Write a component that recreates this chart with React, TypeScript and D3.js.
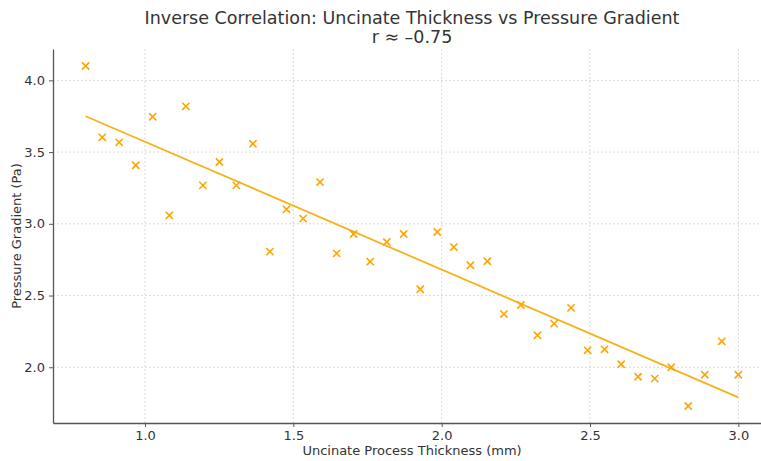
import React, { useEffect, useRef } from "react";
import * as d3 from "d3";

// Uncinate process thickness (mm) and pressure gradient (Pa)
const thickness = [
  0.8, 0.856, 0.913, 0.969, 1.026, 1.082, 1.138, 1.195, 1.251, 1.308,
  1.364, 1.421, 1.477, 1.533, 1.59, 1.646, 1.703, 1.759, 1.815, 1.872,
  1.928, 1.985, 2.041, 2.097, 2.154, 2.21, 2.267, 2.323, 2.379, 2.436,
  2.492, 2.549, 2.605, 2.662, 2.718, 2.774, 2.831, 2.887, 2.944, 3.0,
];
const pressure = [
  4.1, 3.603, 3.568, 3.408, 3.746, 3.059, 3.819, 3.268, 3.431, 3.268,
  3.558, 2.806, 3.101, 3.036, 3.291, 2.794, 2.929, 2.736, 2.873, 2.929,
  2.544, 2.943, 2.838, 2.711, 2.739, 2.371, 2.434, 2.223, 2.304, 2.414,
  2.118, 2.125, 2.021, 1.934, 1.921, 2.0, 1.73, 1.948, 2.181, 1.948,
];
// fitted trend line end points
const trendX = [0.8, 3.0];
const trendY = [3.75, 1.79];

const xTicks = [1.0, 1.5, 2.0, 2.5, 3.0];
const yTicks = [2.0, 2.5, 3.0, 3.5, 4.0];

const titleLines = ["Inverse Correlation: Uncinate Thickness vs Pressure Gradient", "r ≈ –0.75"];

const W = 761;
const H = 461;
const margin = { top: 49, right: -10, bottom: 38, left: 53 };

export default function App() {
  const svgRef = useRef<SVGSVGElement>(null);

  useEffect(() => {
    document.body.style.margin = "0";
    const svg = d3.select(svgRef.current);
    svg.selectAll("*").remove();

    const font = "DejaVu Sans, sans-serif";
    const innerW = W - margin.left - margin.right;
    const innerH = H - margin.top - margin.bottom;

    const x = d3.scaleLinear().domain([0.69, 3.11]).range([0, innerW]);
    const y = d3.scaleLinear().domain([1.6115, 4.2185]).range([innerH, 0]);

    const g = svg.append("g").attr("transform", `translate(${margin.left},${margin.top})`);

    // grid
    g.append("g")
      .selectAll("line")
      .data(xTicks)
      .join("line")
      .attr("x1", d => x(d)).attr("x2", d => x(d))
      .attr("y1", 0).attr("y2", innerH)
      .attr("stroke", "#d0d0d0").attr("stroke-width", 0.8)
      .attr("stroke-dasharray", "2,2");
    g.append("g")
      .selectAll("line")
      .data(yTicks)
      .join("line")
      .attr("x1", 0).attr("x2", innerW)
      .attr("y1", d => y(d)).attr("y2", d => y(d))
      .attr("stroke", "#d0d0d0").attr("stroke-width", 0.8)
      .attr("stroke-dasharray", "2,2");

    // axes
    const xAxis = g.append("g")
      .attr("transform", `translate(0,${innerH})`)
      .call(d3.axisBottom(x).tickValues(xTicks).tickFormat(d3.format(".1f"))
        .tickSizeInner(4).tickSizeOuter(0).tickPadding(4));
    const yAxis = g.append("g")
      .call(d3.axisLeft(y).tickValues(yTicks).tickFormat(d3.format(".1f"))
        .tickSizeInner(4).tickSizeOuter(0).tickPadding(4));
    [xAxis, yAxis].forEach(a => {
      a.select(".domain").attr("stroke", "#555").attr("stroke-width", 1.3);
      a.selectAll(".tick line").attr("stroke", "#555").attr("stroke-width", 1);
      a.selectAll(".tick text")
        .attr("fill", "#333")
        .style("font-family", font)
        .style("font-size", "13px");
    });

    // trend line
    const line = d3.line<number>()
      .x((_, i) => x(trendX[i]))
      .y(d => y(d));
    g.append("path")
      .datum(trendY)
      .attr("d", line)
      .attr("fill", "none")
      .attr("stroke", "#f6b21b")
      .attr("stroke-width", 1.8);

    // x markers
    const s = 3.6;
    g.append("g")
      .selectAll("path")
      .data(thickness)
      .join("path")
      .attr("transform", (d, i) => `translate(${x(d)},${y(pressure[i])})`)
      .attr("d", `M${-s},${-s}L${s},${s}M${-s},${s}L${s},${-s}`)
      .attr("stroke", "#ffa500")
      .attr("stroke-width", 1.6)
      .attr("fill", "none");

    // labels
    svg.append("text")
      .attr("x", margin.left + innerW / 2)
      .attr("y", 455)
      .attr("text-anchor", "middle")
      .attr("fill", "#333")
      .style("font-family", font)
      .style("font-size", "13px")
      .text("Uncinate Process Thickness (mm)");

    svg.append("text")
      .attr("transform", `translate(21,${margin.top + innerH / 2}) rotate(-90)`)
      .attr("text-anchor", "middle")
      .attr("fill", "#333")
      .style("font-family", font)
      .style("font-size", "13px")
      .text("Pressure Gradient (Pa)");

    titleLines.forEach((t, i) => {
      svg.append("text")
        .attr("x", margin.left + innerW / 2)
        .attr("y", 24 + i * 19)
        .attr("text-anchor", "middle")
        .attr("fill", "#333")
        .style("font-family", font)
        .style("font-size", "17.5px")
        .text(t);
    });
  }, []);

  return <svg ref={svgRef} width={W} height={H} style={{ display: "block" }}></svg>;
}
